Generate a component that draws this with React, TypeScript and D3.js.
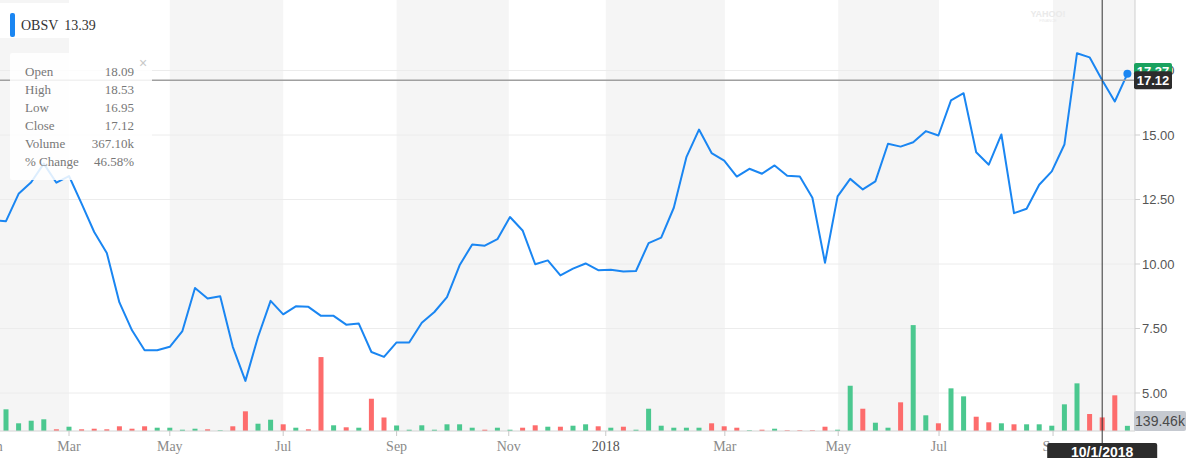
import React from 'react';
import * as d3 from 'd3';

// Weekly closes; first value is the week just left of the visible area (index -1)
const closes = [
  11.69, 11.66, 12.72, 13.17, 13.89, 13.15, 13.41, 12.34, 11.24, 10.43,
  8.51, 7.43, 6.66, 6.66, 6.79, 7.40, 9.07, 8.66, 8.75, 6.79,
  5.47, 7.17, 8.57, 8.05, 8.36, 8.34, 7.99, 7.99, 7.65, 7.69,
  6.59, 6.40, 6.96, 6.96, 7.72, 8.14, 8.72, 9.95, 10.76, 10.71,
  10.96, 11.82, 11.30, 9.99, 10.14, 9.56, 9.82, 10.02, 9.76, 9.78,
  9.71, 9.73, 10.81, 11.02, 12.18, 14.14, 15.21, 14.30, 14.01, 13.39,
  13.69, 13.50, 13.82, 13.42, 13.39, 12.57, 10.05, 12.62, 13.30, 12.89,
  13.20, 14.66, 14.55, 14.72, 15.15, 14.98, 16.34, 16.62, 14.33, 13.85,
  15.02, 11.97, 12.14, 13.07, 13.59, 14.63, 18.17, 18.01, 17.12, 16.30,
  17.37,
];

// Weekly volume in thousands (index 0..89)
const volumes = [
  586, 208, 278, 316, 46, 116, 46, 62, 46, 127,
  62, 127, 89, 89, 35, 62, 46, 19, 127, 532,
  197, 305, 181, 89, 46, 1998, 154, 100, 89, 872,
  365, 149, 35, 154, 35, 181, 181, 89, 35, 89,
  35, 89, 154, 116, 116, 143, 181, 127, 89, 116,
  35, 602, 143, 89, 89, 89, 208, 127, 89, 19,
  35, 62, 19, 19, 19, 116, 35, 1223, 602, 224,
  89, 775, 2862, 424, 208, 1153, 937, 386, 235, 208,
  181, 181, 181, 143, 721, 1288, 459, 367.1, 964, 139.46,
];

const volDirection = [
  'u','u','u','u','d','u','d','d','d','d',
  'd','d','u','u','u','u','d','u','d','d',
  'u','u','d','u','d','d','u','d','u','d',
  'd','u','u','u','u','u','u','u','d','u',
  'u','d','d','u','d','u','u','d','u','d',
  'u','u','u','u','u','u','d','d','d','u',
  'd','u','d','d','d','d','u','u','d','u',
  'u','d','u','u','d','u','u','d','d','u',
  'd','u','u','u','u','u','d','d','d','u',
];

const xTickLabels = ['Jan', 'Mar', 'May', 'Jul', 'Sep', 'Nov', '2018', 'Mar', 'May', 'Jul', 'Sep'];
const xTickIndex = [-1.0, 5.0, 13.0, 22.0, 31.0, 39.9, 47.6, 57.05, 66.05, 74.05, 83.1];

const yTicks = [5, 7.5, 10, 12.5, 15, 17.5];

const tooltipLabels = ['Open', 'High', 'Low', 'Close', 'Volume', '% Change'];
const tooltipValues = ['18.09', '18.53', '16.95', '17.12', '367.10k', '46.58%'];

const symbol = 'OBSV';
const legendValue = '13.39';
const hoverIndex = 87;
const hoverDate = '10/1/2018';
const hoverClose = 17.12;
const lastPriceLabel = '17.37';
const lastVolumeLabel = '139.46k';

const W = 1190;
const H = 458;
const plotRight = 1135;
const axisY = 431;

export default function App() {
  const x = d3.scaleLinear().domain([0, 89]).range([6, 6 + 89 * 12.6]);
  const y = d3.scaleLinear().domain([5, 15]).range([393, 135]);
  const yv = d3.scaleLinear().domain([0, 3000]).range([axisY, axisY - 111]);

  const line = d3
    .line<number>()
    .x((_, i) => x(i - 1))
    .y((d) => y(d));

  const tickX = xTickIndex.map((t) => x(t));
  const bands: [number, number][] = [];
  for (let k = 0; k < tickX.length; k += 2) {
    const a = k === 0 ? -20 : tickX[k];
    const b = k + 1 < tickX.length ? tickX[k + 1] : plotRight;
    bands.push([a, b]);
  }

  const lastIdx = volumes.length - 1;
  const lastX = x(lastIdx);
  const lastY = y(closes[closes.length - 1]);
  const hoverX = x(hoverIndex);
  const hoverY = y(hoverClose);

  const serif = '"Liberation Serif", "Times New Roman", serif';
  const sans = '"Liberation Sans", Arial, Helvetica, sans-serif';

  return (
    <svg
      width={W}
      height={H}
      style={{ position: 'absolute', left: 0, top: 0, background: '#fff' }}
    >
      <defs>
        <clipPath id="plotClip">
          <rect x={0} y={0} width={plotRight} height={axisY} />
        </clipPath>
      </defs>

      {/* alternating month bands */}
      {bands.map(([a, b], i) => (
        <rect key={'b' + i} x={Math.max(0, a)} y={0} width={b - Math.max(0, a)} height={axisY} fill="#f5f5f5" />
      ))}

      {/* grid lines */}
      {yTicks.map((t) => (
        <line key={'g' + t} x1={0} x2={plotRight} y1={y(t)} y2={y(t)} stroke="#ececec" strokeWidth={1} />
      ))}

      {/* watermark */}
      <text x={1048} y={17} textAnchor="middle" fontFamily={sans} fontSize={9} fontWeight="bold" fill="#eaeaea">
        YAHOO!
      </text>
      <text x={1048} y={22} textAnchor="middle" fontFamily={sans} fontSize={4} fill="#eaeaea">
        FINANCE
      </text>

      {/* volume bars */}
      <g clipPath="url(#plotClip)">
        {volumes.map((v, i) => (
          <rect
            key={'v' + i}
            x={x(i) - 2.5}
            y={yv(v)}
            width={5}
            height={axisY - yv(v)}
            fill={volDirection[i] === 'u' ? '#4bc88f' : '#fd6c6c'}
          />
        ))}
      </g>

      {/* price line */}
      <g clipPath="url(#plotClip)">
        <path d={line(closes) || ''} fill="none" stroke="#1a86f2" strokeWidth={2} strokeLinejoin="round" />
      </g>

      {/* crosshair horizontal */}
      <line x1={0} x2={plotRight} y1={hoverY} y2={hoverY} stroke="#a0a0a0" strokeWidth={1.5} />

      {/* right axis */}
      <line x1={plotRight} x2={plotRight} y1={0} y2={axisY} stroke="#cfcfcf" strokeWidth={1} />
      {yTicks.map((t) => (
        <g key={'yt' + t}>
          <line x1={plotRight} x2={plotRight + 5} y1={y(t)} y2={y(t)} stroke="#cfcfcf" />
          <text x={plotRight + 7} y={y(t) + 4.5} fontFamily={sans} fontSize={13} fill="#555">
            {t.toFixed(2)}
          </text>
        </g>
      ))}

      {/* bottom axis */}
      <line x1={0} x2={plotRight} y1={axisY} y2={axisY} stroke="#d4d4d4" strokeWidth={1} />
      {xTickLabels.map((lab, i) => (
        <g key={'xt' + i}>
          <line x1={tickX[i]} x2={tickX[i]} y1={axisY} y2={axisY + 5} stroke="#c8c8c8" />
          <text
            x={tickX[i]}
            y={451}
            textAnchor="middle"
            fontFamily={serif}
            fontSize={14}
            fill={lab === '2018' ? '#555' : '#8a8a8a'}
          >
            {lab}
          </text>
        </g>
      ))}

      {/* crosshair vertical */}
      <line x1={hoverX} x2={hoverX} y1={0} y2={444} stroke="#333" strokeWidth={1} />

      {/* last price marker */}
      <circle cx={lastX} cy={lastY} r={4} fill="#1a86f2" />

      {/* price labels on right axis */}
      <rect x={plotRight - 1} y={63} width={38} height={18} rx={2} fill="#1aa25f" />
      <text x={plotRight + 18} y={76} textAnchor="middle" fontFamily={sans} fontSize={13} fontWeight="bold" fill="#fff">
        {lastPriceLabel}
      </text>
      <rect x={plotRight - 1} y={hoverY - 9} width={38} height={18} rx={2} fill="#2c2c2c" />
      <text x={plotRight + 18} y={hoverY + 5} textAnchor="middle" fontFamily={sans} fontSize={13} fontWeight="bold" fill="#fff">
        {hoverClose.toFixed(2)}
      </text>

      {/* volume label */}
      <rect x={plotRight - 1} y={411} width={52} height={20} rx={2} fill="#c5c9d0" />
      <text x={plotRight + 25} y={426} textAnchor="middle" fontFamily={sans} fontSize={14} fill="#4a4a4a">
        {lastVolumeLabel}
      </text>

      {/* date label */}
      <rect x={hoverX - 55} y={443} width={110} height={20} rx={2} fill="#2c2c2c" />
      <text x={hoverX} y={457} textAnchor="middle" fontFamily={sans} fontSize={14} fontWeight="bold" fill="#fff">
        {hoverDate}
      </text>

      {/* legend */}
      <rect x={0} y={3} width={92} height={35} fill="#fff" />
      <rect x={10} y={13} width={5} height={24} rx={2} fill="#1a86f2" />
      <text x={21} y={30} fontFamily={serif} fontSize={14} fill="#333">
        {symbol}
        <tspan dx={6}>{legendValue}</tspan>
      </text>

      {/* tooltip */}
      <rect x={10} y={53} width={142} height={127} rx={2} fill="#fff" fillOpacity={0.85} />
      <text x={143} y={68} textAnchor="middle" fontFamily={sans} fontSize={14} fill="#c8c8c8">
        ×
      </text>
      {tooltipLabels.map((lab, i) => (
        <g key={'tt' + i}>
          <text x={25} y={76 + i * 18} fontFamily={serif} fontSize={13} fill="#777">
            {lab}
          </text>
          <text x={134} y={76 + i * 18} textAnchor="end" fontFamily={serif} fontSize={13} fill="#777">
            {tooltipValues[i]}
          </text>
        </g>
      ))}
    </svg>
  );
}
